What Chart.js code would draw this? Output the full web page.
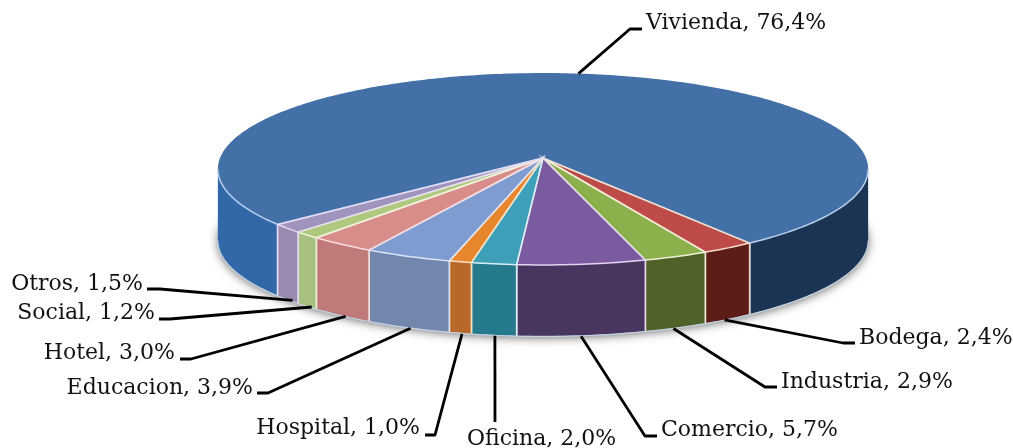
<!DOCTYPE html>
<html>
<head>
<meta charset="utf-8">
<script src="https://cdn.jsdelivr.net/npm/chart.js@4"></script>
<style>
body { margin: 0; background: #fff; }
</style>
</head>
<body>
<canvas id="chart" width="1013" height="448"></canvas>
<script>
const categories = ['Vivienda', 'Bodega', 'Industria', 'Comercio', 'Oficina', 'Hospital', 'Educacion', 'Hotel', 'Social', 'Otros'];
const shares = [76.4, 2.4, 2.9, 5.7, 2.0, 1.0, 3.9, 3.0, 1.2, 1.5];

const topColors = ['#4470a8', '#be4b48', '#8cb04c', '#7b5ba0', '#3da0b8', '#e8862d', '#7e9ccf', '#d88d8b', '#aec97d', '#a093be'];
const sideColors = ['#3268a8', '#5c1c18', '#4f6228', '#493660', '#25798c', '#b8692a', '#7286ae', '#c07a7a', '#a8c080', '#9a8ab0'];
const edgeColors = ['#b8d0ee', '#f0dcc8', '#f0f0d8', '#e4d4f0', '#d8f0f4', '#fbe0c0', '#dce6f8', '#f6dcdc', '#eef4dc', '#e4dcf0'];
const sideDark = '#1c3454'; // right hand part of the big slice

// where the text sits and where the leader bends, same order as categories
const labelAt = [[646, 23, 'left'], [859, 338, 'left'], [781, 382, 'left'], [661, 430, 'left'], [467, 439, 'left'],
    [420, 428, 'right'], [253, 388, 'right'], [175, 353, 'right'], [155, 313, 'right'], [143, 284, 'right']];
const elbows = [[[630, 29], [642, 29]], [[843, 343], [855, 343]], [[765, 387], [777, 387]], [[645, 436], [657, 436]], [[495, 422]],
    [[435, 435], [425, 435]], [[268, 393], [257, 393]], [[191, 359], [180, 359]], [[170, 319], [159, 319]], [[160, 289], [147, 289]]];

// perspective of the pie: apex, radii, depth of view and thickness
const cx = 543, apexY = 158, radX = 323, radY = 94.7, persp = 0.1146, thick = 71;

function project(a, drop) {
    const w = 1 - persp * Math.sin(a);
    return [cx + radX * Math.cos(a) / w, apexY + radY * Math.sin(a) / w + (drop || 0)];
}

function rimPath(ctx, a0, a1, drop, move) {
    const n = Math.max(2, Math.ceil(Math.abs(a1 - a0) * 60));
    for (let i = 0; i <= n; i++) {
        const p = project(a0 + (a1 - a0) * i / n, drop);
        if (i === 0 && move) ctx.moveTo(p[0], p[1]);
        else ctx.lineTo(p[0], p[1]);
    }
}

// front part of the rim, between the left and right extreme of the ellipse
const frontFrom = Math.asin(persp), frontTo = Math.PI - Math.asin(persp);

// calls back with the pieces of a slice that face the viewer
function frontPieces(a0, a1, cb) {
    for (let k = -1; k <= 1; k++) {
        const from = Math.max(a0 + k * 2 * Math.PI, frontFrom);
        const to = Math.min(a1 + k * 2 * Math.PI, frontTo);
        if (to > from) cb(from, to);
    }
}

function drawSide(ctx, a0, a1, fill, edge) {
    frontPieces(a0, a1, (from, to) => {
        ctx.beginPath();
        rimPath(ctx, from, to, 0, true);
        rimPath(ctx, to, from, thick, false);
        ctx.closePath();
        const right = from < 0.2 && fill === sideColors[0];
        ctx.fillStyle = right ? sideDark : fill;
        ctx.fill();
        ctx.lineWidth = 1.6;
        ctx.strokeStyle = edge;
        ctx.beginPath();
        if (from > frontFrom + 1e-6) {
            const p = project(from), q = project(from, thick);
            ctx.moveTo(p[0], p[1]);
            ctx.lineTo(q[0], q[1]);
        }
        if (to < frontTo - 1e-6) {
            const p = project(to), q = project(to, thick);
            ctx.moveTo(p[0], p[1]);
            ctx.lineTo(q[0], q[1]);
        }
        ctx.stroke();
    });
}

const pie3d = {
    id: 'pie3d',
    beforeDatasetsDraw(chart) {
        const ctx = chart.ctx;
        const arcs = chart.getDatasetMeta(0).data;

        // soft shadow under the pie
        ctx.save();
        ctx.shadowColor = 'rgba(50,50,50,0.7)';
        ctx.shadowBlur = 10;
        ctx.shadowOffsetY = 1;
        ctx.fillStyle = '#a9b6c6';
        ctx.beginPath();
        rimPath(ctx, 0, 2 * Math.PI, thick + 1, true);
        ctx.closePath();
        ctx.fill();
        ctx.restore();

        arcs.forEach((arc, i) => drawSide(ctx, arc.startAngle, arc.endAngle, sideColors[i], edgeColors[i]));

        // pale line along the bottom of the side
        ctx.lineWidth = 1.2;
        ctx.strokeStyle = 'rgba(205,220,235,0.8)';
        ctx.beginPath();
        rimPath(ctx, frontFrom, frontTo, thick + 0.5, true);
        ctx.stroke();

        arcs.forEach((arc, i) => {
            ctx.beginPath();
            ctx.moveTo(cx, apexY);
            rimPath(ctx, arc.startAngle, arc.endAngle, 0, false);
            ctx.closePath();
            ctx.fillStyle = topColors[i];
            ctx.fill();
        });
        arcs.forEach((arc, i) => {
            ctx.lineWidth = 1.5;
            ctx.strokeStyle = edgeColors[i];
            ctx.beginPath();
            const a = project(arc.startAngle);
            ctx.moveTo(a[0], a[1]);
            ctx.lineTo(cx, apexY);
            const b = project(arc.endAngle);
            ctx.lineTo(b[0], b[1]);
            ctx.stroke();
            // rim on the front half only
            frontPieces(arc.startAngle, arc.endAngle, (from, to) => {
                ctx.beginPath();
                rimPath(ctx, from, to, 0, true);
                ctx.stroke();
            });
        });

        // leader lines and texts
        ctx.lineJoin = 'round';
        arcs.forEach((arc, i) => {
            const mid = (arc.startAngle + arc.endAngle) / 2;
            const start = i === 0 ? project(mid) : project(mid, thick + 1);
            if (i > 0) start[0] = cx + (start[0] - cx) * 0.98;
            ctx.lineWidth = 2.8;
            ctx.strokeStyle = '#000';
            ctx.beginPath();
            ctx.moveTo(start[0], start[1]);
            elbows[i].forEach(p => ctx.lineTo(p[0], p[1]));
            ctx.stroke();

            const pos = labelAt[i];
            ctx.font = '22px "DejaVu Serif"';
            ctx.fillStyle = '#111';
            ctx.textAlign = pos[2];
            ctx.textBaseline = 'middle';
            ctx.fillText(categories[i] + ', ' + shares[i].toFixed(1).replace('.', ',') + '%', pos[0], pos[1]);
        });
        return false;
    }
};

new Chart(document.getElementById('chart'), {
    type: 'pie',
    data: {
        labels: categories,
        datasets: [{ data: shares, backgroundColor: topColors, borderWidth: 0 }]
    },
    options: {
        responsive: false,
        animation: false,
        rotation: 229.5,
        plugins: { legend: { display: false }, tooltip: { enabled: false } }
    },
    plugins: [pie3d]
});
</script>
</body>
</html>
